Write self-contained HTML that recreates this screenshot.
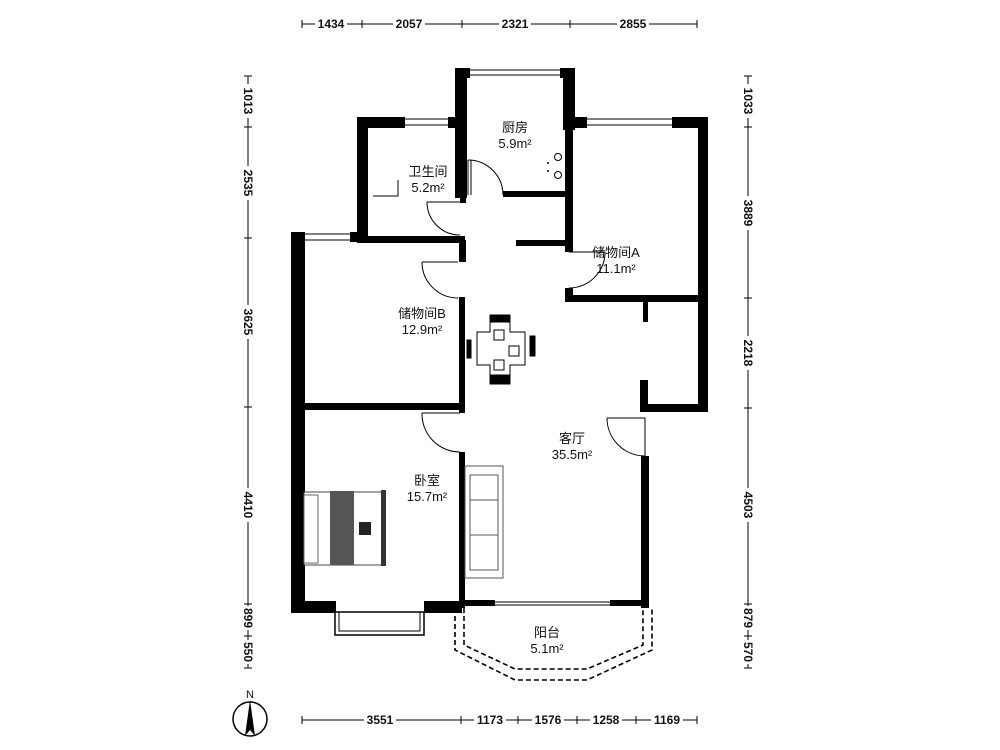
<!DOCTYPE html>
<html><head><meta charset="utf-8"><style>
html,body{margin:0;padding:0;background:#fff;}
svg{display:block;}
text{font-family:"Liberation Sans","Noto Sans CJK SC",sans-serif;fill:#111;}
</style></head><body>
<svg width="1000" height="750" viewBox="0 0 1000 750" xmlns="http://www.w3.org/2000/svg">
<rect width="1000" height="750" fill="#fff"/>
<g fill="#000">
<!-- kitchen -->
<rect x="455" y="68" width="12" height="130"/>
<rect x="455" y="68" width="15" height="10"/>
<rect x="560" y="68" width="15" height="10"/>
<rect x="563" y="68" width="12" height="62"/>
<!-- bathroom -->
<rect x="357" y="117" width="11" height="125"/>
<rect x="357" y="117" width="48" height="11"/>
<rect x="448" y="117" width="17" height="11"/>
<rect x="357" y="236" width="108" height="7"/>
<rect x="460" y="195" width="6" height="8"/>
<!-- kitchen bottom -->
<rect x="503" y="191" width="67" height="6"/>
<!-- storage A -->
<rect x="565" y="117" width="22" height="11"/>
<rect x="672" y="117" width="36" height="11"/>
<rect x="698" y="117" width="10" height="295"/>
<rect x="565" y="117" width="8" height="135"/>
<rect x="565" y="288" width="8" height="14"/>
<rect x="565" y="295" width="140" height="7"/>
<rect x="643" y="302" width="5" height="20"/>
<rect x="640" y="380" width="8" height="32"/>
<rect x="640" y="404" width="68" height="8"/>
<rect x="641" y="456" width="8" height="152"/>
<rect x="516" y="240" width="50" height="6"/>
<!-- storage B / bedroom -->
<rect x="291" y="232" width="14" height="381"/>
<rect x="291" y="232" width="14" height="10"/>
<rect x="350" y="232" width="12" height="10"/>
<rect x="459" y="240" width="7" height="22"/>
<rect x="459" y="297" width="6" height="116"/>
<rect x="459" y="452" width="6" height="156"/>
<rect x="303" y="403" width="158" height="7"/>
<rect x="291" y="601" width="45" height="12"/>
<rect x="424" y="601" width="38" height="12"/>
<rect x="460" y="600" width="35" height="6"/>
<rect x="610" y="600" width="39" height="6"/>
</g>
<g fill="none" stroke="#000" stroke-width="1">
<!-- windows -->
<line x1="470" y1="70" x2="560" y2="70"/><line x1="470" y1="75" x2="560" y2="75"/>
<line x1="405" y1="119" x2="448" y2="119"/><line x1="405" y1="125" x2="448" y2="125"/>
<line x1="587" y1="119" x2="672" y2="119"/><line x1="587" y1="125" x2="672" y2="125"/>
<line x1="305" y1="234" x2="350" y2="234"/><line x1="305" y1="240" x2="350" y2="240"/>
<line x1="495" y1="602" x2="610" y2="602"/><line x1="495" y1="605" x2="610" y2="605"/>
<!-- doors -->
<path d="M468 160 A35 35 0 0 1 503 195"/><line x1="468" y1="160" x2="468" y2="195"/><line x1="471" y1="160" x2="471" y2="195"/>
<path d="M427 202 A33 33 0 0 0 460 235"/><line x1="427" y1="202" x2="460" y2="202"/>
<path d="M422 262 A36 36 0 0 0 458 298"/><line x1="422" y1="262" x2="458" y2="262"/>
<path d="M605 252 A36 36 0 0 1 569 288"/><line x1="569" y1="252" x2="605" y2="252"/>
<path d="M422 413 A38 38 0 0 0 460 452"/><line x1="422" y1="413" x2="460" y2="413"/>
<path d="M607 418 A38 38 0 0 0 645 456"/><line x1="607" y1="418" x2="645" y2="418"/><line x1="645" y1="418" x2="645" y2="456"/>
<path d="M398 180 L398 196 L373 196"/>
<!-- small balcony -->
<rect x="335" y="612" width="89" height="23" stroke-width="1.5"/>
<rect x="339" y="612" width="81" height="19"/>
</g>
<!-- balcony dashed -->
<g fill="none" stroke="#000" stroke-width="1.6" stroke-dasharray="5,3">
<path d="M455 608 L455 650 L515 680 L587 680 L652 650 L652 608"/>
<path d="M464 608 L464 645 L515 669 L587 669 L643 645 L643 608"/>
</g>
<!-- stove -->
<circle cx="558" cy="157" r="3.5" fill="none" stroke="#000"/>
<circle cx="558" cy="175" r="3.5" fill="none" stroke="#000"/>
<circle cx="548" cy="163" r="1" fill="#000"/><circle cx="548" cy="171" r="1" fill="#000"/>
<!-- dining -->
<g stroke="#000" fill="#fff" stroke-width="1">
<rect x="490" y="315" width="20" height="8" fill="#000"/>
<rect x="490" y="374" width="20" height="10" fill="#000"/>
<rect x="467" y="340" width="4" height="18" fill="#000"/>
<rect x="530" y="336" width="5" height="20" fill="#000"/>
<path d="M490 322 L510 322 L510 332 L525 332 L525 365 L510 365 L510 375 L490 375 L490 365 L477 365 L477 332 L490 332 Z"/>
<rect x="494" y="330" width="10" height="10"/><rect x="509" y="346" width="10" height="10"/><rect x="494" y="360" width="10" height="10"/>
</g>
<!-- bed -->
<g>
<rect x="304" y="492" width="80" height="73" fill="#fff" stroke="#444"/>
<rect x="330" y="491" width="24" height="74" fill="#555"/>
<rect x="381" y="490" width="5" height="76" fill="#333"/>
<rect x="359" y="522" width="12" height="13" fill="#222"/>
<rect x="304" y="495" width="14" height="68" fill="#fff" stroke="#666"/>
</g>
<!-- sofa -->
<g fill="none" stroke="#555">
<rect x="465" y="466" width="38" height="112"/>
<rect x="470" y="475" width="28" height="95"/>
<line x1="470" y1="500" x2="498" y2="500"/><line x1="470" y1="535" x2="498" y2="535"/>
</g>
<!-- room labels -->
<g font-size="13" text-anchor="middle">
<text x="515" y="132">厨房</text><text x="515" y="148">5.9m²</text>
<text x="428" y="176">卫生间</text><text x="428" y="192">5.2m²</text>
<text x="616" y="257">储物间A</text><text x="616" y="273">11.1m²</text>
<text x="422" y="318">储物间B</text><text x="422" y="334">12.9m²</text>
<text x="572" y="443">客厅</text><text x="572" y="459">35.5m²</text>
<text x="427" y="485">卧室</text><text x="427" y="501">15.7m²</text>
<text x="547" y="637">阳台</text><text x="547" y="653">5.1m²</text>
</g>
<!-- dimensions -->
<g stroke="#000" stroke-width="1">
<line x1="302" y1="24" x2="697" y2="24"/>
<line x1="302" y1="720" x2="697" y2="720"/>
<line x1="248" y1="76" x2="248" y2="668"/>
<line x1="748" y1="76" x2="748" y2="668"/>
</g>
<g stroke="#000" stroke-width="1">
<line x1="302" y1="20" x2="302" y2="28"/><line x1="362" y1="20" x2="362" y2="28"/><line x1="462" y1="20" x2="462" y2="28"/><line x1="570" y1="20" x2="570" y2="28"/><line x1="697" y1="20" x2="697" y2="28"/>
<line x1="302" y1="716" x2="302" y2="724"/><line x1="461" y1="716" x2="461" y2="724"/><line x1="518" y1="716" x2="518" y2="724"/><line x1="577" y1="716" x2="577" y2="724"/><line x1="636" y1="716" x2="636" y2="724"/><line x1="697" y1="716" x2="697" y2="724"/>
<line x1="244" y1="76" x2="252" y2="76"/><line x1="244" y1="127" x2="252" y2="127"/><line x1="244" y1="238" x2="252" y2="238"/><line x1="244" y1="407" x2="252" y2="407"/><line x1="244" y1="604" x2="252" y2="604"/><line x1="244" y1="636" x2="252" y2="636"/><line x1="244" y1="668" x2="252" y2="668"/>
<line x1="744" y1="76" x2="752" y2="76"/><line x1="744" y1="127" x2="752" y2="127"/><line x1="744" y1="298" x2="752" y2="298"/><line x1="744" y1="408" x2="752" y2="408"/><line x1="744" y1="604" x2="752" y2="604"/><line x1="744" y1="636" x2="752" y2="636"/><line x1="744" y1="668" x2="752" y2="668"/>
</g>
<g font-size="12" text-anchor="middle" font-weight="bold">
<g fill="#fff"><rect x="315" y="16" width="32" height="14"/><rect x="393" y="16" width="32" height="14"/><rect x="499" y="16" width="32" height="14"/><rect x="617" y="16" width="32" height="14"/>
<rect x="364" y="712" width="32" height="14"/><rect x="474" y="712" width="32" height="14"/><rect x="532" y="712" width="32" height="14"/><rect x="590" y="712" width="32" height="14"/><rect x="651" y="712" width="32" height="14"/></g>
<text x="331" y="28">1434</text><text x="409" y="28">2057</text><text x="515" y="28">2321</text><text x="633" y="28">2855</text>
<text x="380" y="724">3551</text><text x="490" y="724">1173</text><text x="548" y="724">1576</text><text x="606" y="724">1258</text><text x="667" y="724">1169</text>
</g>
<g font-size="12" text-anchor="middle" font-weight="bold">
<g fill="#fff"><rect x="241" y="84" width="14" height="34"/><rect x="241" y="166" width="14" height="34"/><rect x="241" y="305" width="14" height="34"/><rect x="241" y="488" width="14" height="34"/><rect x="241" y="606" width="14" height="24"/><rect x="241" y="640" width="14" height="24"/>
<rect x="741" y="84" width="14" height="34"/><rect x="741" y="196" width="14" height="34"/><rect x="741" y="336" width="14" height="34"/><rect x="741" y="488" width="14" height="34"/><rect x="741" y="606" width="14" height="24"/><rect x="741" y="640" width="14" height="24"/></g>
<text transform="translate(244,101) rotate(90)">1013</text>
<text transform="translate(244,183) rotate(90)">2535</text>
<text transform="translate(244,322) rotate(90)">3625</text>
<text transform="translate(244,505) rotate(90)">4410</text>
<text transform="translate(244,618) rotate(90)">899</text>
<text transform="translate(244,652) rotate(90)">550</text>
<text transform="translate(744,101) rotate(90)">1033</text>
<text transform="translate(744,213) rotate(90)">3889</text>
<text transform="translate(744,353) rotate(90)">2218</text>
<text transform="translate(744,505) rotate(90)">4503</text>
<text transform="translate(744,618) rotate(90)">879</text>
<text transform="translate(744,652) rotate(90)">570</text>
</g>
<!-- compass -->
<circle cx="250" cy="719" r="17" fill="none" stroke="#000" stroke-width="1.5"/>
<path d="M250 700 L255 736 L250 730 L245 736 Z" fill="#000"/>
<text x="250" y="698" font-size="11" text-anchor="middle">N</text>
</svg>
</body></html>
